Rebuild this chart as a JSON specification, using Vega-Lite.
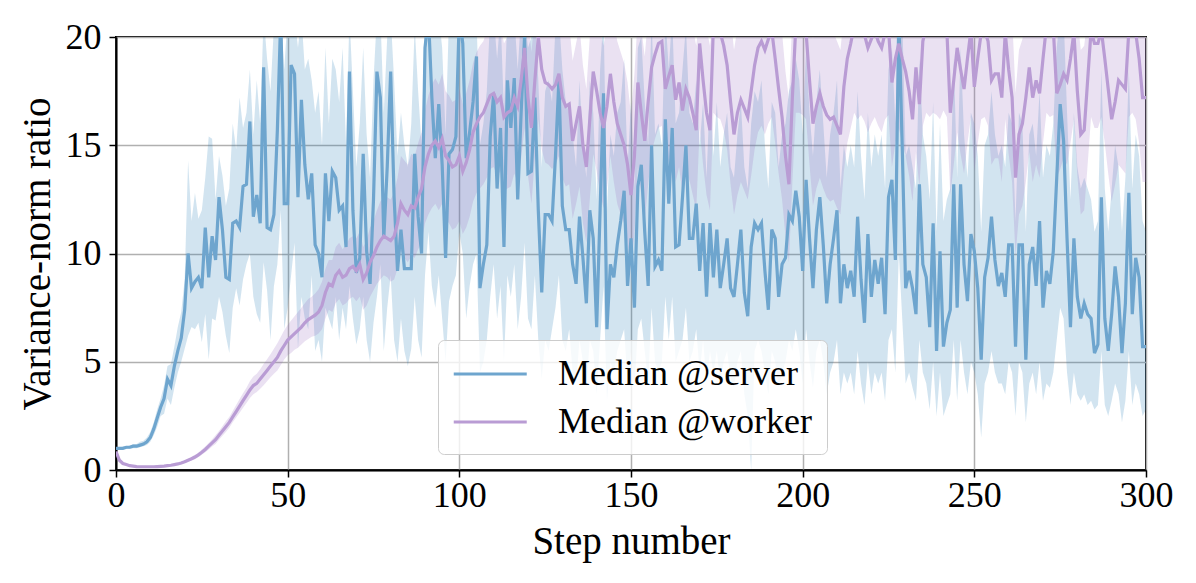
{
  "$schema": "https://vega.github.io/schema/vega-lite/v6.json",
  "width": 1030,
  "height": 433,
  "autosize": {"type": "none"},
  "padding": {"left": 116, "top": 37, "right": 50, "bottom": 113},
  "background": "white",
  "config": {
    "font": "Liberation Serif",
    "view": {"stroke": "black", "strokeWidth": 2},
    "axis": {
      "labelFont": "Liberation Serif",
      "labelFontSize": 36,
      "labelColor": "black",
      "labelFlush": false,
      "titleFont": "Liberation Serif",
      "titleFontSize": 39,
      "titleFontWeight": "normal",
      "titleColor": "black",
      "tickColor": "black",
      "tickSize": 7,
      "tickWidth": 1.5,
      "domainColor": "black",
      "domainWidth": 2,
      "gridColor": "#b0b0b0",
      "gridWidth": 1.5
    },
    "legend": {
      "labelFont": "Liberation Serif",
      "labelFontSize": 36,
      "labelColor": "black",
      "labelLimit": 500
    }
  },
  "data": {
    "values": [
      {"step":0,"s":1.0,"s_lo":0.95,"s_hi":1.05,"w":0.85,"w_lo":0.75,"w_hi":0.95},
      {"step":1,"s":1.0,"s_lo":0.95,"s_hi":1.05,"w":0.45,"w_lo":0.4,"w_hi":0.5},
      {"step":2,"s":1.0,"s_lo":0.95,"s_hi":1.07,"w":0.3,"w_lo":0.27,"w_hi":0.33},
      {"step":3,"s":1.05,"s_lo":0.98,"s_hi":1.1,"w":0.25,"w_lo":0.22,"w_hi":0.28},
      {"step":4,"s":1.05,"s_lo":0.98,"s_hi":1.12,"w":0.2,"w_lo":0.18,"w_hi":0.23},
      {"step":5,"s":1.1,"s_lo":1.0,"s_hi":1.2,"w":0.18,"w_lo":0.16,"w_hi":0.21},
      {"step":6,"s":1.1,"s_lo":1.0,"s_hi":1.2,"w":0.16,"w_lo":0.14,"w_hi":0.19},
      {"step":7,"s":1.15,"s_lo":1.05,"s_hi":1.3,"w":0.15,"w_lo":0.13,"w_hi":0.18},
      {"step":8,"s":1.2,"s_lo":1.1,"s_hi":1.35,"w":0.15,"w_lo":0.13,"w_hi":0.18},
      {"step":9,"s":1.3,"s_lo":1.15,"s_hi":1.5,"w":0.15,"w_lo":0.13,"w_hi":0.18},
      {"step":10,"s":1.5,"s_lo":1.3,"s_hi":1.75,"w":0.15,"w_lo":0.13,"w_hi":0.18},
      {"step":11,"s":1.9,"s_lo":1.6,"s_hi":2.2,"w":0.15,"w_lo":0.13,"w_hi":0.18},
      {"step":12,"s":2.4,"s_lo":2.0,"s_hi":2.8,"w":0.16,"w_lo":0.14,"w_hi":0.19},
      {"step":13,"s":2.9,"s_lo":2.5,"s_hi":3.3,"w":0.17,"w_lo":0.15,"w_hi":0.2},
      {"step":14,"s":3.3,"s_lo":2.6,"s_hi":3.9,"w":0.18,"w_lo":0.16,"w_hi":0.21},
      {"step":15,"s":4.2,"s_lo":3.3,"s_hi":4.8,"w":0.2,"w_lo":0.17,"w_hi":0.23},
      {"step":16,"s":3.9,"s_lo":3.0,"s_hi":4.9,"w":0.22,"w_lo":0.19,"w_hi":0.26},
      {"step":17,"s":4.8,"s_lo":3.8,"s_hi":5.7,"w":0.25,"w_lo":0.21,"w_hi":0.29},
      {"step":18,"s":5.5,"s_lo":4.5,"s_hi":6.6,"w":0.28,"w_lo":0.24,"w_hi":0.33},
      {"step":19,"s":6.1,"s_lo":5.0,"s_hi":7.3,"w":0.32,"w_lo":0.27,"w_hi":0.37},
      {"step":20,"s":7.4,"s_lo":5.6,"s_hi":8.8,"w":0.38,"w_lo":0.32,"w_hi":0.44},
      {"step":21,"s":10.0,"s_lo":6.2,"s_hi":14.3,"w":0.45,"w_lo":0.38,"w_hi":0.52},
      {"step":22,"s":8.4,"s_lo":6.6,"s_hi":11.5,"w":0.52,"w_lo":0.44,"w_hi":0.6},
      {"step":23,"s":8.7,"s_lo":6.5,"s_hi":12.8,"w":0.6,"w_lo":0.5,"w_hi":0.7},
      {"step":24,"s":8.9,"s_lo":6.8,"s_hi":11.6,"w":0.7,"w_lo":0.6,"w_hi":0.8},
      {"step":25,"s":8.4,"s_lo":5.9,"s_hi":12.0,"w":0.82,"w_lo":0.7,"w_hi":0.95},
      {"step":26,"s":11.2,"s_lo":7.2,"s_hi":13.5,"w":0.95,"w_lo":0.82,"w_hi":1.08},
      {"step":27,"s":8.9,"s_lo":5.1,"s_hi":15.4,"w":1.1,"w_lo":0.95,"w_hi":1.25},
      {"step":28,"s":10.8,"s_lo":7.0,"s_hi":15.3,"w":1.25,"w_lo":1.08,"w_hi":1.42},
      {"step":29,"s":9.7,"s_lo":6.9,"s_hi":12.5,"w":1.4,"w_lo":1.2,"w_hi":1.6},
      {"step":30,"s":12.6,"s_lo":8.0,"s_hi":14.5,"w":1.6,"w_lo":1.4,"w_hi":1.8},
      {"step":31,"s":11.1,"s_lo":7.3,"s_hi":13.6,"w":1.8,"w_lo":1.58,"w_hi":2.02},
      {"step":32,"s":8.9,"s_lo":6.2,"s_hi":12.2,"w":2.0,"w_lo":1.75,"w_hi":2.25},
      {"step":33,"s":8.8,"s_lo":5.4,"s_hi":13.0,"w":2.2,"w_lo":1.95,"w_hi":2.45},
      {"step":34,"s":11.4,"s_lo":7.5,"s_hi":16.0,"w":2.45,"w_lo":2.2,"w_hi":2.72},
      {"step":35,"s":11.5,"s_lo":8.4,"s_hi":14.8,"w":2.7,"w_lo":2.42,"w_hi":3.0},
      {"step":36,"s":11.2,"s_lo":7.6,"s_hi":17.2,"w":2.95,"w_lo":2.65,"w_hi":3.28},
      {"step":37,"s":13.1,"s_lo":8.8,"s_hi":15.8,"w":3.2,"w_lo":2.88,"w_hi":3.55},
      {"step":38,"s":13.2,"s_lo":9.5,"s_hi":16.5,"w":3.45,"w_lo":3.1,"w_hi":3.8},
      {"step":39,"s":16.1,"s_lo":10.0,"s_hi":18.5,"w":3.7,"w_lo":3.32,"w_hi":4.1},
      {"step":40,"s":11.7,"s_lo":8.0,"s_hi":15.5,"w":3.9,"w_lo":3.5,"w_hi":4.32},
      {"step":41,"s":12.7,"s_lo":7.2,"s_hi":18.0,"w":4.0,"w_lo":3.6,"w_hi":4.45},
      {"step":42,"s":11.4,"s_lo":6.8,"s_hi":16.0,"w":4.2,"w_lo":3.75,"w_hi":4.65},
      {"step":43,"s":18.6,"s_lo":9.6,"s_hi":21.0,"w":4.4,"w_lo":3.92,"w_hi":4.9},
      {"step":44,"s":11.2,"s_lo":8.3,"s_hi":19.0,"w":4.6,"w_lo":4.1,"w_hi":5.12},
      {"step":45,"s":11.1,"s_lo":6.0,"s_hi":17.5,"w":4.8,"w_lo":4.28,"w_hi":5.35},
      {"step":46,"s":11.8,"s_lo":8.5,"s_hi":20.5,"w":5.0,"w_lo":4.45,"w_hi":5.6},
      {"step":47,"s":15.7,"s_lo":9.5,"s_hi":21.0,"w":5.2,"w_lo":4.6,"w_hi":5.85},
      {"step":48,"s":21.0,"s_lo":12.0,"s_hi":21.0,"w":5.5,"w_lo":4.85,"w_hi":6.15},
      {"step":49,"s":12.3,"s_lo":6.5,"s_hi":18.5,"w":5.75,"w_lo":5.1,"w_hi":6.45},
      {"step":50,"s":12.3,"s_lo":7.5,"s_hi":21.0,"w":6.0,"w_lo":5.3,"w_hi":6.7},
      {"step":51,"s":18.7,"s_lo":9.0,"s_hi":21.0,"w":6.15,"w_lo":5.4,"w_hi":6.9},
      {"step":52,"s":18.3,"s_lo":10.5,"s_hi":21.0,"w":6.3,"w_lo":5.55,"w_hi":7.1},
      {"step":53,"s":12.6,"s_lo":5.6,"s_hi":19.5,"w":6.45,"w_lo":5.65,"w_hi":7.3},
      {"step":54,"s":17.1,"s_lo":8.0,"s_hi":21.0,"w":6.6,"w_lo":5.8,"w_hi":7.5},
      {"step":55,"s":14.1,"s_lo":7.0,"s_hi":18.5,"w":6.8,"w_lo":5.95,"w_hi":7.7},
      {"step":56,"s":12.5,"s_lo":6.5,"s_hi":19.0,"w":6.95,"w_lo":6.05,"w_hi":7.9},
      {"step":57,"s":13.7,"s_lo":9.0,"s_hi":18.0,"w":7.05,"w_lo":6.15,"w_hi":8.0},
      {"step":58,"s":10.4,"s_lo":5.5,"s_hi":16.5,"w":7.15,"w_lo":6.2,"w_hi":8.15},
      {"step":59,"s":10.0,"s_lo":6.0,"s_hi":17.5,"w":7.3,"w_lo":6.3,"w_hi":8.35},
      {"step":60,"s":8.9,"s_lo":5.0,"s_hi":15.0,"w":7.6,"w_lo":6.5,"w_hi":8.7},
      {"step":61,"s":13.7,"s_lo":7.5,"s_hi":19.5,"w":8.2,"w_lo":7.0,"w_hi":9.3},
      {"step":62,"s":11.5,"s_lo":7.0,"s_hi":16.0,"w":8.6,"w_lo":7.4,"w_hi":9.7},
      {"step":63,"s":13.8,"s_lo":6.5,"s_hi":19.0,"w":8.5,"w_lo":7.3,"w_hi":9.7},
      {"step":64,"s":13.5,"s_lo":8.0,"s_hi":18.5,"w":9.0,"w_lo":7.7,"w_hi":10.3},
      {"step":65,"s":12.0,"s_lo":6.0,"s_hi":17.0,"w":9.2,"w_lo":7.9,"w_hi":10.5},
      {"step":66,"s":12.2,"s_lo":7.5,"s_hi":19.5,"w":8.9,"w_lo":7.6,"w_hi":10.2},
      {"step":67,"s":10.3,"s_lo":6.5,"s_hi":15.0,"w":9.0,"w_lo":7.7,"w_hi":10.4},
      {"step":68,"s":18.4,"s_lo":8.5,"s_hi":21.0,"w":9.3,"w_lo":7.9,"w_hi":10.7},
      {"step":69,"s":12.0,"s_lo":7.0,"s_hi":17.5,"w":9.4,"w_lo":8.0,"w_hi":10.8},
      {"step":70,"s":9.1,"s_lo":5.8,"s_hi":14.0,"w":9.2,"w_lo":7.8,"w_hi":10.7},
      {"step":71,"s":9.8,"s_lo":6.5,"s_hi":16.0,"w":9.5,"w_lo":8.0,"w_hi":11.0},
      {"step":72,"s":14.6,"s_lo":8.0,"s_hi":19.5,"w":8.8,"w_lo":7.4,"w_hi":10.3},
      {"step":73,"s":10.1,"s_lo":6.0,"s_hi":15.5,"w":9.1,"w_lo":7.6,"w_hi":10.6},
      {"step":74,"s":8.6,"s_lo":5.0,"s_hi":13.5,"w":9.6,"w_lo":8.0,"w_hi":11.2},
      {"step":75,"s":12.5,"s_lo":6.8,"s_hi":18.0,"w":9.9,"w_lo":8.3,"w_hi":11.5},
      {"step":76,"s":18.4,"s_lo":8.0,"s_hi":21.0,"w":10.3,"w_lo":8.6,"w_hi":12.0},
      {"step":77,"s":17.2,"s_lo":9.5,"s_hi":21.0,"w":10.6,"w_lo":8.8,"w_hi":12.4},
      {"step":78,"s":10.7,"s_lo":5.5,"s_hi":16.5,"w":10.8,"w_lo":9.0,"w_hi":12.6},
      {"step":79,"s":14.0,"s_lo":7.5,"s_hi":20.0,"w":10.7,"w_lo":8.9,"w_hi":12.6},
      {"step":80,"s":18.4,"s_lo":9.0,"s_hi":21.0,"w":10.6,"w_lo":8.7,"w_hi":12.5},
      {"step":81,"s":12.6,"s_lo":6.0,"s_hi":18.0,"w":10.8,"w_lo":8.8,"w_hi":12.8},
      {"step":82,"s":9.2,"s_lo":5.0,"s_hi":14.5,"w":11.4,"w_lo":9.3,"w_hi":13.5},
      {"step":83,"s":11.1,"s_lo":7.0,"s_hi":16.5,"w":12.3,"w_lo":10.1,"w_hi":14.5},
      {"step":84,"s":9.3,"s_lo":5.5,"s_hi":15.0,"w":12.0,"w_lo":9.8,"w_hi":14.3},
      {"step":85,"s":9.3,"s_lo":4.8,"s_hi":14.0,"w":11.8,"w_lo":9.6,"w_hi":14.1},
      {"step":86,"s":9.3,"s_lo":5.6,"s_hi":16.0,"w":12.2,"w_lo":9.9,"w_hi":14.6},
      {"step":87,"s":14.6,"s_lo":8.0,"s_hi":20.5,"w":12.1,"w_lo":9.8,"w_hi":14.5},
      {"step":88,"s":11.7,"s_lo":6.0,"s_hi":17.5,"w":12.6,"w_lo":10.2,"w_hi":15.1},
      {"step":89,"s":10.0,"s_lo":5.2,"s_hi":15.0,"w":13.0,"w_lo":10.5,"w_hi":15.6},
      {"step":90,"s":19.5,"s_lo":9.0,"s_hi":21.0,"w":14.0,"w_lo":11.4,"w_hi":16.6},
      {"step":91,"s":21.0,"s_lo":11.0,"s_hi":21.0,"w":14.6,"w_lo":11.8,"w_hi":17.3},
      {"step":92,"s":17.2,"s_lo":8.5,"s_hi":21.0,"w":15.0,"w_lo":12.1,"w_hi":17.8},
      {"step":93,"s":14.4,"s_lo":7.5,"s_hi":20.0,"w":15.2,"w_lo":12.3,"w_hi":18.1},
      {"step":94,"s":16.9,"s_lo":9.0,"s_hi":21.0,"w":14.9,"w_lo":12.0,"w_hi":17.8},
      {"step":95,"s":14.1,"s_lo":7.0,"s_hi":19.5,"w":15.3,"w_lo":12.3,"w_hi":18.3},
      {"step":96,"s":9.8,"s_lo":5.0,"s_hi":15.5,"w":14.5,"w_lo":11.6,"w_hi":17.5},
      {"step":97,"s":14.6,"s_lo":7.8,"s_hi":21.0,"w":14.3,"w_lo":11.4,"w_hi":17.3},
      {"step":98,"s":14.8,"s_lo":8.5,"s_hi":20.0,"w":14.0,"w_lo":11.1,"w_hi":17.0},
      {"step":99,"s":15.4,"s_lo":9.0,"s_hi":21.0,"w":14.1,"w_lo":11.2,"w_hi":17.1},
      {"step":100,"s":21.0,"s_lo":11.0,"s_hi":21.0,"w":14.5,"w_lo":11.5,"w_hi":17.6},
      {"step":101,"s":19.7,"s_lo":10.0,"s_hi":21.0,"w":13.8,"w_lo":10.9,"w_hi":16.9},
      {"step":102,"s":14.4,"s_lo":7.0,"s_hi":20.5,"w":14.2,"w_lo":11.2,"w_hi":17.4},
      {"step":103,"s":15.6,"s_lo":8.5,"s_hi":21.0,"w":14.8,"w_lo":11.7,"w_hi":18.0},
      {"step":104,"s":17.0,"s_lo":9.5,"s_hi":21.0,"w":15.6,"w_lo":12.4,"w_hi":18.8},
      {"step":105,"s":19.1,"s_lo":10.0,"s_hi":21.0,"w":16.0,"w_lo":12.8,"w_hi":19.3},
      {"step":106,"s":8.4,"s_lo":4.5,"s_hi":15.0,"w":16.3,"w_lo":13.0,"w_hi":19.6},
      {"step":107,"s":9.5,"s_lo":5.0,"s_hi":16.0,"w":16.5,"w_lo":13.2,"w_hi":19.8},
      {"step":108,"s":10.4,"s_lo":6.0,"s_hi":17.5,"w":16.9,"w_lo":13.5,"w_hi":20.3},
      {"step":109,"s":15.4,"s_lo":8.0,"s_hi":21.0,"w":17.3,"w_lo":13.9,"w_hi":20.7},
      {"step":110,"s":17.4,"s_lo":9.5,"s_hi":21.0,"w":17.4,"w_lo":14.0,"w_hi":20.8},
      {"step":111,"s":13.0,"s_lo":7.0,"s_hi":19.0,"w":17.0,"w_lo":13.6,"w_hi":20.4},
      {"step":112,"s":15.8,"s_lo":8.5,"s_hi":21.0,"w":17.2,"w_lo":13.8,"w_hi":20.6},
      {"step":113,"s":10.3,"s_lo":5.0,"s_hi":16.5,"w":16.3,"w_lo":12.9,"w_hi":19.7},
      {"step":114,"s":18.0,"s_lo":9.0,"s_hi":21.0,"w":16.5,"w_lo":13.0,"w_hi":20.0},
      {"step":115,"s":15.8,"s_lo":8.0,"s_hi":21.0,"w":16.6,"w_lo":13.1,"w_hi":20.1},
      {"step":116,"s":18.1,"s_lo":9.5,"s_hi":21.0,"w":17.2,"w_lo":13.7,"w_hi":20.7},
      {"step":117,"s":12.5,"s_lo":6.5,"s_hi":18.5,"w":16.8,"w_lo":13.3,"w_hi":20.3},
      {"step":118,"s":16.5,"s_lo":8.0,"s_hi":21.0,"w":18.0,"w_lo":14.4,"w_hi":21.0},
      {"step":119,"s":20.0,"s_lo":10.5,"s_hi":21.0,"w":19.5,"w_lo":15.8,"w_hi":21.0},
      {"step":120,"s":13.7,"s_lo":7.0,"s_hi":19.5,"w":17.2,"w_lo":13.6,"w_hi":20.8},
      {"step":121,"s":13.8,"s_lo":6.5,"s_hi":20.0,"w":15.8,"w_lo":12.3,"w_hi":19.3},
      {"step":122,"s":17.2,"s_lo":9.0,"s_hi":21.0,"w":18.0,"w_lo":14.4,"w_hi":21.0},
      {"step":123,"s":12.0,"s_lo":6.0,"s_hi":18.0,"w":20.0,"w_lo":16.2,"w_hi":21.0},
      {"step":124,"s":8.2,"s_lo":4.2,"s_hi":14.0,"w":18.5,"w_lo":14.8,"w_hi":21.0},
      {"step":125,"s":11.8,"s_lo":6.0,"s_hi":17.5,"w":17.9,"w_lo":14.2,"w_hi":21.0},
      {"step":126,"s":11.8,"s_lo":5.5,"s_hi":18.0,"w":17.8,"w_lo":14.1,"w_hi":21.0},
      {"step":127,"s":11.5,"s_lo":6.5,"s_hi":17.0,"w":17.6,"w_lo":13.9,"w_hi":21.0},
      {"step":128,"s":14.5,"s_lo":7.5,"s_hi":20.5,"w":17.8,"w_lo":14.1,"w_hi":21.0},
      {"step":129,"s":18.0,"s_lo":9.0,"s_hi":21.0,"w":18.3,"w_lo":14.5,"w_hi":21.0},
      {"step":130,"s":12.2,"s_lo":6.0,"s_hi":18.5,"w":17.2,"w_lo":13.5,"w_hi":20.9},
      {"step":131,"s":11.1,"s_lo":5.5,"s_hi":17.0,"w":16.8,"w_lo":13.1,"w_hi":20.5},
      {"step":132,"s":11.1,"s_lo":6.5,"s_hi":16.5,"w":16.9,"w_lo":13.2,"w_hi":20.6},
      {"step":133,"s":9.5,"s_lo":4.5,"s_hi":15.5,"w":15.2,"w_lo":11.6,"w_hi":18.9},
      {"step":134,"s":8.6,"s_lo":4.0,"s_hi":14.0,"w":16.0,"w_lo":12.3,"w_hi":19.7},
      {"step":135,"s":11.7,"s_lo":6.0,"s_hi":18.0,"w":16.8,"w_lo":13.1,"w_hi":20.5},
      {"step":136,"s":9.8,"s_lo":5.0,"s_hi":15.0,"w":15.0,"w_lo":11.4,"w_hi":18.7},
      {"step":137,"s":7.7,"s_lo":3.8,"s_hi":13.5,"w":14.0,"w_lo":10.5,"w_hi":17.6},
      {"step":138,"s":12.0,"s_lo":6.0,"s_hi":18.0,"w":16.2,"w_lo":12.5,"w_hi":20.0},
      {"step":139,"s":10.7,"s_lo":5.5,"s_hi":16.5,"w":18.4,"w_lo":14.6,"w_hi":21.0},
      {"step":140,"s":6.6,"s_lo":3.5,"s_hi":12.5,"w":17.5,"w_lo":13.8,"w_hi":21.0},
      {"step":141,"s":12.0,"s_lo":6.0,"s_hi":18.5,"w":16.5,"w_lo":12.8,"w_hi":20.3},
      {"step":142,"s":17.4,"s_lo":8.5,"s_hi":21.0,"w":15.8,"w_lo":12.1,"w_hi":19.6},
      {"step":143,"s":6.5,"s_lo":3.2,"s_hi":12.0,"w":16.8,"w_lo":13.0,"w_hi":20.6},
      {"step":144,"s":9.5,"s_lo":5.0,"s_hi":15.5,"w":18.3,"w_lo":14.5,"w_hi":21.0},
      {"step":145,"s":8.9,"s_lo":4.5,"s_hi":14.5,"w":17.0,"w_lo":13.3,"w_hi":20.8},
      {"step":146,"s":10.4,"s_lo":5.5,"s_hi":16.5,"w":16.0,"w_lo":12.3,"w_hi":19.8},
      {"step":147,"s":11.5,"s_lo":6.0,"s_hi":17.0,"w":15.5,"w_lo":11.8,"w_hi":19.3},
      {"step":148,"s":12.9,"s_lo":6.5,"s_hi":19.0,"w":15.0,"w_lo":11.4,"w_hi":18.8},
      {"step":149,"s":8.5,"s_lo":4.0,"s_hi":14.0,"w":14.1,"w_lo":10.5,"w_hi":17.9},
      {"step":150,"s":10.7,"s_lo":5.5,"s_hi":17.0,"w":12.7,"w_lo":9.3,"w_hi":16.4},
      {"step":151,"s":7.5,"s_lo":3.8,"s_hi":13.0,"w":14.5,"w_lo":10.9,"w_hi":18.3},
      {"step":152,"s":13.1,"s_lo":6.5,"s_hi":19.5,"w":17.9,"w_lo":14.0,"w_hi":21.0},
      {"step":153,"s":14.1,"s_lo":7.0,"s_hi":20.0,"w":16.5,"w_lo":12.7,"w_hi":20.4},
      {"step":154,"s":11.0,"s_lo":5.5,"s_hi":17.0,"w":15.2,"w_lo":11.5,"w_hi":19.1},
      {"step":155,"s":8.5,"s_lo":4.0,"s_hi":15.0,"w":17.0,"w_lo":13.2,"w_hi":21.0},
      {"step":156,"s":15.0,"s_lo":7.5,"s_hi":21.0,"w":18.6,"w_lo":14.7,"w_hi":21.0},
      {"step":157,"s":9.4,"s_lo":5.0,"s_hi":15.5,"w":19.2,"w_lo":15.3,"w_hi":21.0},
      {"step":158,"s":9.7,"s_lo":4.5,"s_hi":16.0,"w":19.7,"w_lo":15.8,"w_hi":21.0},
      {"step":159,"s":9.2,"s_lo":5.0,"s_hi":15.0,"w":19.8,"w_lo":15.9,"w_hi":21.0},
      {"step":160,"s":16.2,"s_lo":8.0,"s_hi":21.0,"w":17.6,"w_lo":13.7,"w_hi":21.0},
      {"step":161,"s":12.3,"s_lo":6.0,"s_hi":18.5,"w":18.2,"w_lo":14.3,"w_hi":21.0},
      {"step":162,"s":15.8,"s_lo":8.0,"s_hi":21.0,"w":18.7,"w_lo":14.8,"w_hi":21.0},
      {"step":163,"s":10.3,"s_lo":5.0,"s_hi":16.0,"w":17.1,"w_lo":13.3,"w_hi":21.0},
      {"step":164,"s":10.4,"s_lo":5.5,"s_hi":16.5,"w":17.9,"w_lo":14.0,"w_hi":21.0},
      {"step":165,"s":12.6,"s_lo":6.0,"s_hi":18.5,"w":16.6,"w_lo":12.8,"w_hi":20.5},
      {"step":166,"s":15.0,"s_lo":7.5,"s_hi":20.5,"w":17.6,"w_lo":13.7,"w_hi":21.0},
      {"step":167,"s":10.7,"s_lo":5.0,"s_hi":16.5,"w":17.2,"w_lo":13.4,"w_hi":21.0},
      {"step":168,"s":10.7,"s_lo":5.5,"s_hi":16.0,"w":16.5,"w_lo":12.7,"w_hi":20.4},
      {"step":169,"s":12.3,"s_lo":6.5,"s_hi":18.0,"w":15.7,"w_lo":12.0,"w_hi":19.6},
      {"step":170,"s":9.2,"s_lo":4.5,"s_hi":15.0,"w":19.7,"w_lo":15.8,"w_hi":21.0},
      {"step":171,"s":11.4,"s_lo":6.0,"s_hi":17.0,"w":18.0,"w_lo":14.1,"w_hi":21.0},
      {"step":172,"s":8.0,"s_lo":4.0,"s_hi":13.5,"w":16.5,"w_lo":12.7,"w_hi":20.4},
      {"step":173,"s":11.4,"s_lo":5.5,"s_hi":17.5,"w":15.7,"w_lo":12.0,"w_hi":19.6},
      {"step":174,"s":8.9,"s_lo":4.5,"s_hi":14.5,"w":20.5,"w_lo":16.5,"w_hi":21.0},
      {"step":175,"s":11.1,"s_lo":5.5,"s_hi":17.0,"w":20.3,"w_lo":16.3,"w_hi":21.0},
      {"step":176,"s":8.4,"s_lo":4.0,"s_hi":14.0,"w":20.2,"w_lo":16.2,"w_hi":21.0},
      {"step":177,"s":9.5,"s_lo":5.0,"s_hi":15.5,"w":19.6,"w_lo":15.7,"w_hi":21.0},
      {"step":178,"s":10.7,"s_lo":5.5,"s_hi":16.5,"w":18.7,"w_lo":14.8,"w_hi":21.0},
      {"step":179,"s":8.4,"s_lo":4.2,"s_hi":14.0,"w":17.0,"w_lo":13.2,"w_hi":21.0},
      {"step":180,"s":8.0,"s_lo":3.8,"s_hi":13.5,"w":15.5,"w_lo":11.8,"w_hi":19.4},
      {"step":181,"s":9.5,"s_lo":5.0,"s_hi":15.5,"w":16.5,"w_lo":12.7,"w_hi":20.4},
      {"step":182,"s":11.1,"s_lo":5.5,"s_hi":17.0,"w":17.1,"w_lo":13.3,"w_hi":21.0},
      {"step":183,"s":8.2,"s_lo":3.5,"s_hi":14.0,"w":16.7,"w_lo":12.9,"w_hi":20.6},
      {"step":184,"s":7.1,"s_lo":2.5,"s_hi":13.0,"w":16.3,"w_lo":12.5,"w_hi":20.2},
      {"step":185,"s":10.3,"s_lo":0.0,"s_hi":16.0,"w":17.5,"w_lo":13.6,"w_hi":21.0},
      {"step":186,"s":11.4,"s_lo":5.5,"s_hi":17.5,"w":18.7,"w_lo":14.8,"w_hi":21.0},
      {"step":187,"s":11.1,"s_lo":6.0,"s_hi":17.0,"w":19.5,"w_lo":15.6,"w_hi":21.0},
      {"step":188,"s":11.4,"s_lo":5.5,"s_hi":18.0,"w":19.8,"w_lo":15.9,"w_hi":21.0},
      {"step":189,"s":9.2,"s_lo":4.5,"s_hi":15.0,"w":19.4,"w_lo":15.5,"w_hi":21.0},
      {"step":190,"s":7.4,"s_lo":3.5,"s_hi":13.0,"w":19.9,"w_lo":16.0,"w_hi":21.0},
      {"step":191,"s":11.1,"s_lo":5.5,"s_hi":17.0,"w":20.3,"w_lo":16.3,"w_hi":21.0},
      {"step":192,"s":10.7,"s_lo":5.0,"s_hi":16.5,"w":19.0,"w_lo":15.1,"w_hi":21.0},
      {"step":193,"s":8.0,"s_lo":3.8,"s_hi":14.0,"w":17.6,"w_lo":13.7,"w_hi":21.0},
      {"step":194,"s":9.5,"s_lo":4.5,"s_hi":15.5,"w":16.3,"w_lo":12.5,"w_hi":20.2},
      {"step":195,"s":9.8,"s_lo":5.0,"s_hi":16.0,"w":14.5,"w_lo":10.8,"w_hi":18.4},
      {"step":196,"s":11.8,"s_lo":6.0,"s_hi":17.5,"w":13.2,"w_lo":9.6,"w_hi":17.1},
      {"step":197,"s":11.5,"s_lo":5.5,"s_hi":18.0,"w":17.2,"w_lo":13.3,"w_hi":21.0},
      {"step":198,"s":12.9,"s_lo":6.5,"s_hi":19.0,"w":20.5,"w_lo":16.5,"w_hi":21.0},
      {"step":199,"s":11.7,"s_lo":5.5,"s_hi":18.0,"w":20.5,"w_lo":16.5,"w_hi":21.0},
      {"step":200,"s":9.2,"s_lo":4.0,"s_hi":15.5,"w":20.4,"w_lo":16.4,"w_hi":21.0},
      {"step":201,"s":13.4,"s_lo":6.5,"s_hi":19.5,"w":20.2,"w_lo":16.2,"w_hi":21.0},
      {"step":202,"s":10.7,"s_lo":5.0,"s_hi":16.5,"w":18.0,"w_lo":14.1,"w_hi":21.0},
      {"step":203,"s":8.4,"s_lo":3.8,"s_hi":14.5,"w":16.0,"w_lo":12.2,"w_hi":19.9},
      {"step":204,"s":11.1,"s_lo":5.5,"s_hi":17.0,"w":16.8,"w_lo":13.0,"w_hi":20.7},
      {"step":205,"s":12.6,"s_lo":6.0,"s_hi":18.5,"w":17.4,"w_lo":13.5,"w_hi":21.0},
      {"step":206,"s":10.4,"s_lo":5.0,"s_hi":16.0,"w":16.8,"w_lo":13.0,"w_hi":20.7},
      {"step":207,"s":7.7,"s_lo":3.5,"s_hi":13.5,"w":16.4,"w_lo":12.6,"w_hi":20.3},
      {"step":208,"s":9.5,"s_lo":4.5,"s_hi":15.5,"w":16.2,"w_lo":12.4,"w_hi":20.1},
      {"step":209,"s":10.7,"s_lo":5.0,"s_hi":16.5,"w":16.3,"w_lo":12.5,"w_hi":20.2},
      {"step":210,"s":12.0,"s_lo":6.0,"s_hi":18.0,"w":15.9,"w_lo":12.1,"w_hi":19.8},
      {"step":211,"s":7.7,"s_lo":3.5,"s_hi":13.0,"w":15.5,"w_lo":11.8,"w_hi":19.4},
      {"step":212,"s":9.5,"s_lo":4.5,"s_hi":15.0,"w":17.7,"w_lo":13.8,"w_hi":21.0},
      {"step":213,"s":8.4,"s_lo":4.0,"s_hi":14.0,"w":19.0,"w_lo":15.1,"w_hi":21.0},
      {"step":214,"s":9.2,"s_lo":4.5,"s_hi":15.0,"w":19.7,"w_lo":15.8,"w_hi":21.0},
      {"step":215,"s":8.0,"s_lo":3.5,"s_hi":14.0,"w":20.5,"w_lo":16.5,"w_hi":21.0},
      {"step":216,"s":11.7,"s_lo":5.5,"s_hi":17.5,"w":20.2,"w_lo":16.2,"w_hi":21.0},
      {"step":217,"s":8.8,"s_lo":4.0,"s_hi":14.5,"w":20.4,"w_lo":16.4,"w_hi":21.0},
      {"step":218,"s":6.8,"s_lo":3.0,"s_hi":12.5,"w":20.1,"w_lo":16.1,"w_hi":21.0},
      {"step":219,"s":10.9,"s_lo":5.0,"s_hi":16.5,"w":19.5,"w_lo":15.6,"w_hi":21.0},
      {"step":220,"s":8.0,"s_lo":3.5,"s_hi":14.0,"w":19.9,"w_lo":16.0,"w_hi":21.0},
      {"step":221,"s":9.7,"s_lo":4.5,"s_hi":15.5,"w":20.3,"w_lo":16.3,"w_hi":21.0},
      {"step":222,"s":8.6,"s_lo":4.0,"s_hi":14.5,"w":19.8,"w_lo":15.9,"w_hi":21.0},
      {"step":223,"s":9.8,"s_lo":4.5,"s_hi":15.5,"w":19.5,"w_lo":15.6,"w_hi":21.0},
      {"step":224,"s":7.2,"s_lo":3.2,"s_hi":13.0,"w":20.2,"w_lo":16.2,"w_hi":21.0},
      {"step":225,"s":12.6,"s_lo":6.0,"s_hi":18.5,"w":20.4,"w_lo":16.4,"w_hi":21.0},
      {"step":226,"s":13.4,"s_lo":6.5,"s_hi":19.5,"w":17.9,"w_lo":14.0,"w_hi":21.0},
      {"step":227,"s":9.7,"s_lo":4.5,"s_hi":16.0,"w":19.0,"w_lo":15.1,"w_hi":21.0},
      {"step":228,"s":21.0,"s_lo":10.0,"s_hi":21.0,"w":19.7,"w_lo":15.8,"w_hi":21.0},
      {"step":229,"s":14.9,"s_lo":7.0,"s_hi":21.0,"w":19.0,"w_lo":15.1,"w_hi":21.0},
      {"step":230,"s":8.4,"s_lo":4.0,"s_hi":14.5,"w":18.4,"w_lo":14.5,"w_hi":21.0},
      {"step":231,"s":9.2,"s_lo":4.5,"s_hi":15.0,"w":17.5,"w_lo":13.6,"w_hi":21.0},
      {"step":232,"s":8.4,"s_lo":3.8,"s_hi":14.0,"w":16.2,"w_lo":12.4,"w_hi":20.1},
      {"step":233,"s":7.2,"s_lo":3.2,"s_hi":13.0,"w":18.6,"w_lo":14.7,"w_hi":21.0},
      {"step":234,"s":13.2,"s_lo":6.0,"s_hi":19.0,"w":16.9,"w_lo":13.1,"w_hi":20.8},
      {"step":235,"s":9.5,"s_lo":4.5,"s_hi":15.5,"w":19.8,"w_lo":15.9,"w_hi":21.0},
      {"step":236,"s":8.9,"s_lo":4.0,"s_hi":14.5,"w":20.5,"w_lo":16.5,"w_hi":21.0},
      {"step":237,"s":6.6,"s_lo":2.8,"s_hi":12.5,"w":20.3,"w_lo":16.3,"w_hi":21.0},
      {"step":238,"s":11.4,"s_lo":5.0,"s_hi":17.0,"w":20.5,"w_lo":16.5,"w_hi":21.0},
      {"step":239,"s":5.5,"s_lo":2.5,"s_hi":11.0,"w":20.4,"w_lo":16.4,"w_hi":21.0},
      {"step":240,"s":10.1,"s_lo":4.5,"s_hi":16.0,"w":20.2,"w_lo":16.2,"w_hi":21.0},
      {"step":241,"s":5.7,"s_lo":2.5,"s_hi":11.5,"w":20.6,"w_lo":16.6,"w_hi":21.0},
      {"step":242,"s":6.8,"s_lo":3.0,"s_hi":12.5,"w":20.3,"w_lo":16.3,"w_hi":21.0},
      {"step":243,"s":7.4,"s_lo":3.5,"s_hi":13.0,"w":16.5,"w_lo":12.7,"w_hi":20.4},
      {"step":244,"s":13.2,"s_lo":6.0,"s_hi":19.0,"w":18.0,"w_lo":14.1,"w_hi":21.0},
      {"step":245,"s":7.5,"s_lo":3.2,"s_hi":13.5,"w":19.5,"w_lo":15.6,"w_hi":21.0},
      {"step":246,"s":13.2,"s_lo":6.0,"s_hi":19.5,"w":18.5,"w_lo":14.6,"w_hi":21.0},
      {"step":247,"s":9.5,"s_lo":4.5,"s_hi":15.5,"w":17.6,"w_lo":13.7,"w_hi":21.0},
      {"step":248,"s":7.8,"s_lo":3.5,"s_hi":13.5,"w":19.0,"w_lo":15.1,"w_hi":21.0},
      {"step":249,"s":10.9,"s_lo":5.0,"s_hi":16.5,"w":20.3,"w_lo":16.3,"w_hi":21.0},
      {"step":250,"s":10.1,"s_lo":4.5,"s_hi":16.0,"w":17.7,"w_lo":13.8,"w_hi":21.0},
      {"step":251,"s":8.4,"s_lo":3.5,"s_hi":14.5,"w":19.0,"w_lo":15.1,"w_hi":21.0},
      {"step":252,"s":5.1,"s_lo":1.5,"s_hi":11.0,"w":20.2,"w_lo":16.2,"w_hi":21.0},
      {"step":253,"s":8.9,"s_lo":4.0,"s_hi":15.0,"w":20.3,"w_lo":16.3,"w_hi":21.0},
      {"step":254,"s":9.8,"s_lo":4.5,"s_hi":15.5,"w":19.8,"w_lo":15.9,"w_hi":21.0},
      {"step":255,"s":11.7,"s_lo":5.5,"s_hi":17.5,"w":18.0,"w_lo":14.1,"w_hi":21.0},
      {"step":256,"s":9.7,"s_lo":4.5,"s_hi":15.5,"w":18.3,"w_lo":14.4,"w_hi":21.0},
      {"step":257,"s":8.5,"s_lo":4.0,"s_hi":14.5,"w":18.3,"w_lo":14.4,"w_hi":21.0},
      {"step":258,"s":9.1,"s_lo":4.0,"s_hi":15.0,"w":17.2,"w_lo":13.3,"w_hi":21.0},
      {"step":259,"s":8.0,"s_lo":3.5,"s_hi":14.0,"w":20.2,"w_lo":16.2,"w_hi":21.0},
      {"step":260,"s":10.4,"s_lo":5.0,"s_hi":16.5,"w":18.5,"w_lo":14.6,"w_hi":21.0},
      {"step":261,"s":10.4,"s_lo":4.5,"s_hi":16.0,"w":17.2,"w_lo":13.3,"w_hi":21.0},
      {"step":262,"s":5.7,"s_lo":2.5,"s_hi":11.5,"w":13.5,"w_lo":9.9,"w_hi":17.4},
      {"step":263,"s":10.4,"s_lo":5.0,"s_hi":16.5,"w":15.5,"w_lo":11.8,"w_hi":19.4},
      {"step":264,"s":10.4,"s_lo":4.5,"s_hi":16.0,"w":16.0,"w_lo":12.2,"w_hi":19.9},
      {"step":265,"s":5.1,"s_lo":2.2,"s_hi":11.0,"w":17.2,"w_lo":13.3,"w_hi":21.0},
      {"step":266,"s":9.5,"s_lo":4.0,"s_hi":15.5,"w":18.6,"w_lo":14.7,"w_hi":21.0},
      {"step":267,"s":10.3,"s_lo":4.5,"s_hi":16.0,"w":17.2,"w_lo":13.3,"w_hi":21.0},
      {"step":268,"s":8.5,"s_lo":3.5,"s_hi":14.5,"w":18.0,"w_lo":14.1,"w_hi":21.0},
      {"step":269,"s":11.5,"s_lo":5.0,"s_hi":17.5,"w":17.4,"w_lo":13.5,"w_hi":21.0},
      {"step":270,"s":7.5,"s_lo":3.2,"s_hi":13.5,"w":19.0,"w_lo":15.1,"w_hi":21.0},
      {"step":271,"s":9.2,"s_lo":4.0,"s_hi":15.0,"w":20.5,"w_lo":16.5,"w_hi":21.0},
      {"step":272,"s":8.6,"s_lo":3.8,"s_hi":14.5,"w":20.3,"w_lo":16.3,"w_hi":21.0},
      {"step":273,"s":10.1,"s_lo":4.5,"s_hi":16.0,"w":20.4,"w_lo":16.4,"w_hi":21.0},
      {"step":274,"s":13.5,"s_lo":6.0,"s_hi":19.5,"w":17.4,"w_lo":13.5,"w_hi":21.0},
      {"step":275,"s":16.9,"s_lo":7.5,"s_hi":21.0,"w":17.8,"w_lo":13.9,"w_hi":21.0},
      {"step":276,"s":15.2,"s_lo":7.0,"s_hi":21.0,"w":18.3,"w_lo":14.4,"w_hi":21.0},
      {"step":277,"s":10.7,"s_lo":4.5,"s_hi":16.5,"w":18.0,"w_lo":14.1,"w_hi":21.0},
      {"step":278,"s":6.6,"s_lo":3.0,"s_hi":12.5,"w":19.0,"w_lo":15.1,"w_hi":21.0},
      {"step":279,"s":10.7,"s_lo":4.5,"s_hi":16.5,"w":20.2,"w_lo":16.2,"w_hi":21.0},
      {"step":280,"s":8.0,"s_lo":3.5,"s_hi":14.0,"w":17.5,"w_lo":13.6,"w_hi":21.0},
      {"step":281,"s":7.0,"s_lo":3.2,"s_hi":13.0,"w":15.5,"w_lo":11.8,"w_hi":19.4},
      {"step":282,"s":7.7,"s_lo":3.5,"s_hi":13.5,"w":15.7,"w_lo":12.0,"w_hi":19.6},
      {"step":283,"s":7.2,"s_lo":3.0,"s_hi":13.0,"w":18.0,"w_lo":14.1,"w_hi":21.0},
      {"step":284,"s":7.0,"s_lo":3.2,"s_hi":12.5,"w":20.3,"w_lo":16.3,"w_hi":21.0},
      {"step":285,"s":5.4,"s_lo":2.8,"s_hi":11.0,"w":19.7,"w_lo":15.8,"w_hi":21.0},
      {"step":286,"s":5.8,"s_lo":3.0,"s_hi":11.5,"w":19.7,"w_lo":15.8,"w_hi":21.0},
      {"step":287,"s":12.6,"s_lo":5.5,"s_hi":18.5,"w":20.3,"w_lo":16.3,"w_hi":21.0},
      {"step":288,"s":7.0,"s_lo":3.0,"s_hi":13.0,"w":19.0,"w_lo":15.1,"w_hi":21.0},
      {"step":289,"s":5.5,"s_lo":2.5,"s_hi":11.0,"w":17.6,"w_lo":13.7,"w_hi":21.0},
      {"step":290,"s":7.2,"s_lo":3.2,"s_hi":13.0,"w":16.2,"w_lo":12.4,"w_hi":20.1},
      {"step":291,"s":9.4,"s_lo":4.0,"s_hi":15.0,"w":17.0,"w_lo":13.2,"w_hi":20.9},
      {"step":292,"s":8.0,"s_lo":3.5,"s_hi":14.0,"w":18.0,"w_lo":14.1,"w_hi":21.0},
      {"step":293,"s":5.4,"s_lo":2.2,"s_hi":11.0,"w":17.8,"w_lo":13.9,"w_hi":21.0},
      {"step":294,"s":7.7,"s_lo":3.2,"s_hi":13.5,"w":17.6,"w_lo":13.7,"w_hi":21.0},
      {"step":295,"s":12.8,"s_lo":5.5,"s_hi":18.5,"w":20.3,"w_lo":16.3,"w_hi":21.0},
      {"step":296,"s":7.2,"s_lo":3.0,"s_hi":13.0,"w":20.5,"w_lo":16.5,"w_hi":21.0},
      {"step":297,"s":9.8,"s_lo":4.0,"s_hi":15.5,"w":20.2,"w_lo":16.2,"w_hi":21.0},
      {"step":298,"s":8.9,"s_lo":3.5,"s_hi":14.5,"w":19.0,"w_lo":15.1,"w_hi":21.0},
      {"step":299,"s":5.7,"s_lo":2.5,"s_hi":11.5,"w":17.2,"w_lo":13.3,"w_hi":21.0},
      {"step":300,"s":5.7,"s_lo":2.8,"s_hi":11.0,"w":17.2,"w_lo":13.3,"w_hi":21.0}
    ]
  },
  "encoding": {
    "x": {
      "field": "step",
      "type": "quantitative",
      "title": "Step number",
      "scale": {"domain": [0, 300], "nice": false, "zero": false},
      "axis": {"values": [0, 50, 100, 150, 200, 250, 300], "labelPadding": 1, "titlePadding": 9}
    }
  },
  "layer": [
    {
      "mark": {"type": "area", "color": "#1f77b4", "opacity": 0.2, "clip": true},
      "encoding": {
        "y": {
          "field": "s_lo",
          "type": "quantitative",
          "title": "Variance-norm ratio",
          "scale": {"domain": [0, 20], "nice": false},
          "axis": {"values": [0, 5, 10, 15, 20], "labelPadding": 8, "titlePadding": 8}
        },
        "y2": {"field": "s_hi"}
      }
    },
    {
      "mark": {"type": "area", "color": "#9467bd", "opacity": 0.2, "clip": true},
      "encoding": {
        "y": {"field": "w_lo", "type": "quantitative"},
        "y2": {"field": "w_hi"}
      }
    },
    {
      "mark": {"type": "line", "strokeWidth": 3.2, "clip": true},
      "encoding": {
        "y": {"field": "s", "type": "quantitative"},
        "color": {
          "datum": "Median @server",
          "type": "nominal",
          "scale": {
            "domain": ["Median @server", "Median @worker"],
            "range": ["#6ea5ce", "#b99cd4"]
          },
          "legend": {
            "title": null,
            "orient": "none",
            "legendX": 322,
            "legendY": 303,
            "symbolType": "M-1,0H3",
            "symbolSize": 1332,
            "symbolStrokeWidth": 3,
            "labelOffset": 66,
            "rowPadding": 10,
            "padding": 14,
            "fillColor": "rgba(255,255,255,0.8)",
            "strokeColor": "#cccccc",
            "cornerRadius": 6
          }
        }
      }
    },
    {
      "mark": {"type": "line", "strokeWidth": 3.2, "clip": true},
      "encoding": {
        "y": {"field": "w", "type": "quantitative"},
        "color": {"datum": "Median @worker", "type": "nominal"}
      }
    }
  ]
}
